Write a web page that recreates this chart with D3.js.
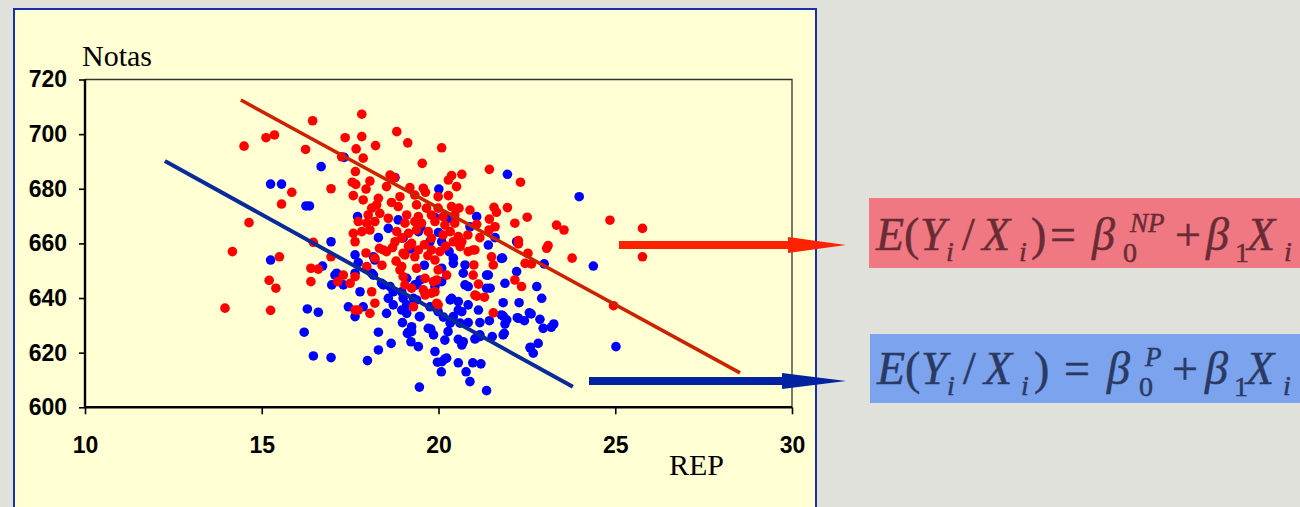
<!DOCTYPE html>
<html><head><meta charset="utf-8">
<script src="https://cdn.jsdelivr.net/npm/d3@7/dist/d3.min.js"></script>
<style>
html,body{margin:0;padding:0;background:#E1E1DC;}
svg{display:block;}
</style></head>
<body>
<svg id="chart" width="1300" height="507"></svg>
<script>
// ---------- data ----------
const xTicks = [10, 15, 20, 25, 30];
const yTicks = [600, 620, 640, 660, 680, 700, 720];
const xLabel = "REP";
const yLabel = "Notas";

// Non-public (NP) schools: red points [REP, Notas]
const redX = [13.96,14.17,14.5,14.64,15.12,15.36,15.21,15.4,15.25,15.5,15.85,15.56,16.24,16.44,16.96,16.46,16.39,16.6,16.39,16.96,17.15,17.31,17.5,17.64,17.73,18.06,18.11,18.2,17.64,17.97,18.33,18.53,19.0,18.91,19.24,19.29,19.05,19.57,19.62,
17.83,17.36,17.83,18.82,18.22,17.67,19.13,20.09,17.26,17.87,19.54,17.65,17.56,17.66,18.06,18.63,18.75,17.95,18.53,19.19,19.57,19.63,20.37,20.28,20.51,20.66,17.59,17.87,18.3,18.67,18.91,19.33,19.99,20.28,18.11,18.25,18.86,19.38,19.66,19.99,20.37,20.58,18.01,18.34,18.58,19.1,19.43,19.8,20.13,20.46,17.73,17.97,18.2,19.05,19.33,19.52,19.9,20.18,20.46,17.59,17.83,18.06,18.82,18.96,19.15,19.38,19.71,19.8,20.13,20.33,20.56,17.64,18.77,19.24,20.42,20.66,
21.44,22.32,20.89,21.57,21.64,21.95,21.44,22.16,22.51,23.34,23.55,21.08,21.6,21.43,21.17,22.26,20.83,23.1,
24.85,25.77,25.77,23.06,23.78,
24.95,22.45,22.63,22.16,22.35,22.53,22.26,21.55,21.3,21.08,21.13,21.5,21.55,20.23,19.8,19.95,19.0,19.86,20.98,20.61,
18.2,19.62,19.99,19.9,19.95,19.99,19.9,19.8,20.04,19.38,18.96,19.05,19.33,19.43,18.44,
20.98,21.0,21.03,20.84,21.03,18.7,19.15,19.6,20.2,19.7,18.8,18.4,17.95];
const redY = [636.3,657.0,695.6,667.6,698.7,699.7,646.5,643.6,635.5,655.1,678.7,674.4,694.4,704.9,680.0,660.4,650.9,650.6,646.0,655.1,646.0,648.4,645.4,635.6,635.6,634.4,642.3,638.1,647.8,651.5,658.2,657.0,656.4,650.3,643.6,636.8,644.8,643.0,647.2,
707.3,698.7,699.1,700.9,695.8,694.6,696.8,695.0,691.7,691.2,689.3,686.3,682.4,681.6,682.8,685.0,684.1,679.9,680.8,680.4,680.2,678.7,684.8,683.2,680.8,685.3,677.5,675.9,676.5,675.0,677.1,677.7,677.1,677.5,672.9,674.1,673.5,674.1,672.9,672.9,673.5,672.9,670.4,671.0,669.2,670.4,669.8,670.4,669.8,670.4,668.0,667.4,668.0,667.4,668.0,667.4,668.0,666.7,667.4,663.7,664.3,664.9,664.3,661.9,663.7,664.9,664.3,661.9,663.1,664.3,662.5,660.6,660.6,660.0,660.6,660.6,
687.1,682.4,672.2,673.2,671.4,673.1,668.9,667.4,669.6,666.7,664.9,667.0,666.1,664.9,662.1,661.0,663.1,659.2,
668.5,665.5,655.1,658.2,654.6,
637.2,652.7,652.5,646.6,644.2,656.4,659.8,634.6,640.3,640.7,645.1,655.1,652.1,648.4,641.8,638.1,647.8,646.0,657.6,658.8,
654.6,641.1,637.5,642.3,646.6,650.3,653.9,657.6,657.0,650.9,651.5,655.8,655.1,657.6,657.6,
648.4,652.1,641.1,657.0,657.6,658.5,659.0,659.5,659.0,655.5,653.5,652.0,656.5];

// Public (P) schools: blue points [REP, Notas]
const blueX = [16.68,15.25,15.56,16.25,16.35,16.96,
17.33,18.77,20.01,17.71,18.86,18.58,18.3,19.43,19.9,20.33,19.76,20.09,
21.95,23.98,21.08,21.6,20.89,22.21,
24.38,25.02,21.36,19.46,20.89,20.78,20.08,21.2,20.97,20.56,20.1,20.23,19.9,20.56,20.66,21.06,21.52,21.83,22.6,22.68,22.82,22.96,23.19,23.26,22.87,22.57,22.43,22.23,21.83,21.93,21.44,21.17,20.84,20.37,20.27,19.78,19.86,19.24,19.43,19.12,19.46,20.14,21.17,20.56,20.84,21.83,22.28,22.78,22.92,21.88,21.46,21.41,22.21,21.78,20.75,20.7,20.42,20.75,21.41,22.99,20.09,19.48,19.0,19.1,18.98,19.29,20.33,
17.64,17.45,17.78,17.64,18.3,18.66,18.3,17.99,19.24,19.15,19.22,20.18,19.97,18.53,18.96,18.72,20.33,20.42,19.99,19.76,19.1,18.96,18.72,18.63,18.44,18.58,19.1,19.33,19.9,20.09,20.37,20.56,20.66,20.61,20.7,20.18,17.31,17.07,17.64,18.11,18.2,20.42,
21.81,21.36,21.36,20.84,21.13,21.78,21.88,22.26,22.62,21.86,21.17,21.03,22.59,
15.25,16.29,16.6,16.2,16.46,16.96,16.72,17.12,16.98,17.87,17.73,18.16,18.16,18.39,19.15,19.38,19.48,19.71,19.38,
19.2,19.6,19.0,20.3,19.5,20.0];
const blueY = [688.1,681.7,681.7,673.7,673.7,660.6,
691.5,684.1,679.9,669.8,668.6,665.5,662.1,664.3,669.5,669.2,660.6,660.6,
685.3,677.1,669.8,662.1,666.1,660.6,
651.7,622.2,606.1,607.4,609.4,613.0,613.0,615.9,616.3,616.3,616.7,618.0,620.4,624.9,622.8,625.3,625.9,626.5,622.0,619.8,623.4,628.9,629.3,630.5,632.2,634.6,631.7,632.8,633.4,632.0,631.7,631.0,631.0,632.2,627.7,628.6,626.5,627.7,622.2,627.1,633.2,633.0,625.9,635.6,637.5,638.3,638.3,644.2,639.9,645.4,643.6,648.4,649.7,654.5,644.8,649.1,652.7,652.1,659.4,652.5,650.9,646.6,639.9,634.4,631.0,639.9,639.3,
655.8,636.8,642.3,633.2,627.5,623.4,621.0,617.1,629.5,627.5,624.0,617.7,616.5,634.4,635.6,637.5,630.8,633.2,635.0,636.8,637.5,642.3,642.3,644.2,644.8,639.9,647.2,644.8,644.2,646.0,639.9,638.7,635.0,630.8,624.0,624.6,644.8,648.4,649.1,649.1,653.9,654.6,
654.6,648.4,643.6,644.2,635.6,633.8,630.5,632.6,634.2,627.1,626.5,625.0,621.8,
653.9,636.0,634.8,627.5,618.8,618.2,651.7,649.1,644.8,636.8,653.0,655.1,648.4,645.4,627.3,639.3,633.2,628.9,644.8,
658.0,652.0,662.0,657.0,666.0,664.0];

// fitted parallel regression lines (endpoints)
const redLineX = [14.41, 28.53], redLineY = [712.5, 612.6];
const blueLineX = [12.26, 23.8], blueLineY = [690.2, 607.5];

// ---------- drawing ----------
const svg = d3.select("#chart");
const W = 1300, H = 507;

svg.append("rect").attr("x", 0).attr("y", 0).attr("width", W).attr("height", H).attr("fill", "#E1E1DC");
svg.append("rect").attr("x", 14).attr("y", 9).attr("width", 802).attr("height", 520)
  .attr("fill", "#FFFFD3").attr("stroke", "#1630B0").attr("stroke-width", 2);

const x = d3.scaleLinear().domain([10, 30]).range([85, 792]);
const y = d3.scaleLinear().domain([600, 720]).range([407.3, 79.5]);

svg.append("path")
  .attr("d", `M${x(10)},${y(720)}H${x(30)}V${y(600)}`)
  .attr("fill", "none").attr("stroke", "#333").attr("stroke-width", 1.3);

const yAxis = svg.append("g").attr("transform", `translate(${x(10)},0)`)
  .call(d3.axisLeft(y).tickValues(yTicks).tickSize(6).tickPadding(12).tickFormat(d3.format("d")));
const xAxis = svg.append("g").attr("transform", `translate(0,${y(600)})`)
  .call(d3.axisBottom(x).tickValues(xTicks).tickSize(7).tickPadding(22).tickFormat(d3.format("d")));
[yAxis, xAxis].forEach(g => {
  g.select(".domain").attr("stroke", "#000").attr("stroke-width", 2.4);
  g.selectAll(".tick line").attr("stroke", "#000").attr("stroke-width", 1.6);
  g.selectAll(".tick text").attr("fill", "#000")
    .style("font-family", "'Liberation Sans', Arial, sans-serif")
    .style("font-weight", "bold").style("font-size", "23px");
});
yAxis.select(".domain").attr("d", `M0,${y(720)}V${y(600)}`);
xAxis.select(".domain").attr("d", `M${x(10)},0H${x(30)}`);

svg.append("text").attr("x", 82).attr("y", 66).text(yLabel)
  .style("font-family", "'Liberation Serif', 'Times New Roman', serif").style("font-size", "30px").attr("fill", "#000");
svg.append("text").attr("x", 669).attr("y", 475).text(xLabel)
  .style("font-family", "'Liberation Serif', 'Times New Roman', serif").style("font-size", "30px").attr("fill", "#000");

const blue = blueX.map((v, i) => [v, blueY[i]]);
const red = redX.map((v, i) => [v, redY[i]]);
svg.append("g").selectAll("circle").data(blue).join("circle")
  .attr("cx", d => x(d[0])).attr("cy", d => y(d[1])).attr("r", 4.8).attr("fill", "#0000FF");
svg.append("g").selectAll("circle").data(red).join("circle")
  .attr("cx", d => x(d[0])).attr("cy", d => y(d[1])).attr("r", 4.8).attr("fill", "#FF0000");

const line = d3.line().x(d => x(d[0])).y(d => y(d[1]));
svg.append("path").attr("d", line(redLineX.map((v, i) => [v, redLineY[i]])))
  .attr("stroke", "#CC2200").attr("stroke-width", 3.5).attr("fill", "none");
svg.append("path").attr("d", line(blueLineX.map((v, i) => [v, blueLineY[i]])))
  .attr("stroke", "#0A2A9A").attr("stroke-width", 4).attr("fill", "none");

function arrow(x0, x1, xt, yc, shaftH, headH, color) {
  svg.append("path")
    .attr("d", `M${x0},${yc - shaftH / 2}H${x1}V${yc - headH / 2}L${xt},${yc}L${x1},${yc + headH / 2}V${yc + shaftH / 2}H${x0}Z`)
    .attr("fill", color);
}
arrow(619, 788, 846, 245, 8, 16, "#FF2200");
arrow(589, 782, 846, 381, 8, 16, "#0022A0");

svg.append("rect").attr("x", 869).attr("y", 198).attr("width", 440).attr("height", 70).attr("fill", "#F07882");
svg.append("rect").attr("x", 870).attr("y", 334).attr("width", 440).attr("height", 69).attr("fill", "#7BA3EE");

// formula as one text element with positioned tspans
function formula(x0, base, color, pieces) {
  const t = svg.append("text").attr("fill", color).attr("stroke", color).attr("stroke-width", 0.5)
    .style("font-family", "'Liberation Serif', 'Times New Roman', serif").style("font-size", "46px");
  pieces.forEach(p => {
    t.append("tspan").attr("x", x0 + p[1]).attr("y", base + (p[4] || 0))
      .text(p[0]).style("font-size", (p[3] || 46) + "px")
      .style("font-style", p[2] ? "italic" : "normal");
  });
}
formula(876, 250, "#6A2C34", [
  ["E", 0, 1], ["(", 28, 0], ["Y", 44, 1], ["i", 70, 1, 28, 11], ["/", 86, 0],
  ["X", 106, 1], ["i", 143, 1, 28, 11], [")", 155, 0], ["=", 174, 0],
  ["β", 216, 1], ["NP", 254, 1, 27, -18], ["0", 247, 0, 28, 12],
  ["+", 299, 0], ["β", 330, 1], ["1", 359, 0, 28, 12], ["X", 371, 1], ["i", 408, 1, 28, 11]
]);
formula(877, 384, "#2A3A62", [
  ["E", 0, 1], ["(", 28, 0], ["Y", 44, 1], ["i", 70, 1, 28, 11], ["/", 86, 0],
  ["X", 107, 1], ["i", 144, 1, 28, 11], [")", 157, 0], ["=", 187, 0],
  ["β", 230, 1], ["P", 268, 1, 27, -18], ["0", 262, 0, 28, 12],
  ["+", 295, 0], ["β", 328, 1], ["1", 357, 0, 28, 12], ["X", 369, 1], ["i", 406, 1, 28, 11]
]);
</script>
</body></html>
